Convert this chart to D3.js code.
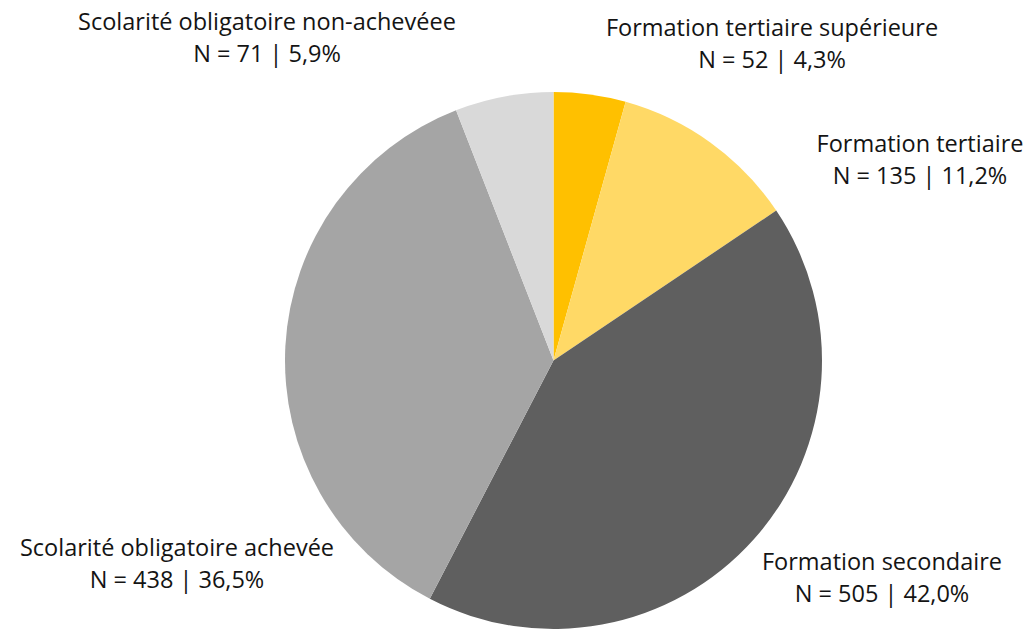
<!DOCTYPE html>
<html>
<head>
<meta charset="utf-8">
<script src="https://cdn.jsdelivr.net/npm/d3@7"></script>
<style>
  html, body { margin: 0; padding: 0; background: #fff; }
  svg text { font-family: "Open Sans", "DejaVu Sans", sans-serif; fill: #141414; }
</style>
</head>
<body>
<svg id="chart" width="1033" height="631"></svg>
<script>
// Data
const categories = [
  "Formation tertiaire supérieure",
  "Formation tertiaire",
  "Formation secondaire",
  "Scolarité obligatoire achevée",
  "Scolarité obligatoire non-achevéee"
];
const counts = [52, 135, 505, 438, 71];
const percentLabels = ["4,3%", "11,2%", "42,0%", "36,5%", "5,9%"];
const colors = ["#FFC000", "#FFD966", "#5F5F5F", "#A5A5A5", "#D9D9D9"];

// Layout
const W = 1033, H = 631;
const cx = 553.5, cy = 360.5, R = 268.5;
// label anchor points (center x, first baseline y)
const labelLayout = [
  { x: 772, y: 36 },
  { x: 920, y: 152 },
  { x: 882, y: 570 },
  { x: 177, y: 556 },
  { x: 267, y: 30 }
];
const lineGap = 32;

const svg = d3.select("#chart");
const g = svg.append("g").attr("transform", `translate(${cx},${cy})`);

const data = categories.map((c, i) => ({ name: c, n: counts[i], pct: percentLabels[i], color: colors[i] }));
const pie = d3.pie().sort(null).value(d => d.n);
const arc = d3.arc().innerRadius(0).outerRadius(R);

g.selectAll("path")
  .data(pie(data))
  .join("path")
  .attr("d", arc)
  .attr("fill", d => d.data.color);

const labels = svg.append("g").selectAll("text")
  .data(data)
  .join("text")
  .attr("text-anchor", "middle")
  .attr("font-size", 23.5);

labels.append("tspan")
  .attr("x", (d, i) => labelLayout[i].x)
  .attr("y", (d, i) => labelLayout[i].y)
  .text(d => d.name);
labels.append("tspan")
  .attr("x", (d, i) => labelLayout[i].x)
  .attr("y", (d, i) => labelLayout[i].y + lineGap)
  .text(d => `N = ${d.n} | ${d.pct}`);
</script>
</body>
</html>
